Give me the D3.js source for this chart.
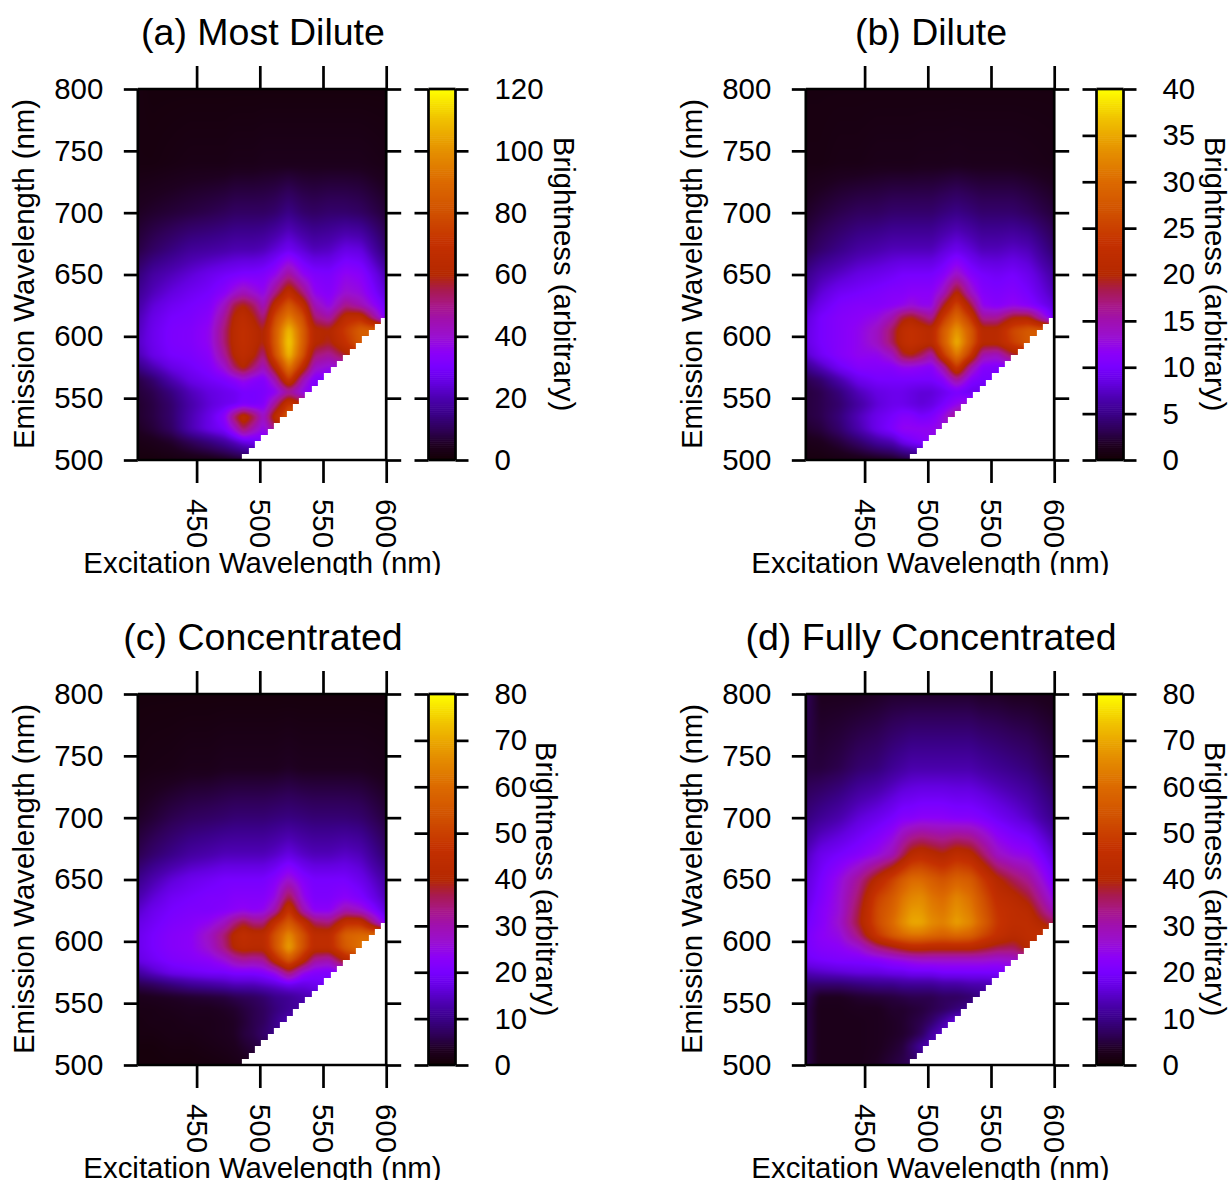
<!DOCTYPE html>
<html><head><meta charset="utf-8">
<style>html,body{margin:0;padding:0;background:#fff}svg{display:block}text{font-family:"Liberation Sans",Arial,sans-serif;fill:#000}</style>
<script src="https://cdn.jsdelivr.net/npm/d3@7"></script></head><body><div id="c"></div>
<script>
const excitationNodes=[403,415,430,445,460,472,480,487,495,503,512,523,534,543,555,568,580,600];
const emissionNodes=[500,515,525,535,545,555,565,575,585,595,605,615,625,635,650,670,700,740,800];
const titles=["(a) Most Dilute","(b) Dilute","(c) Concentrated","(d) Fully Concentrated"];
const brightnessMax=[120,40,80,80];
const brightnessTicks=[[0,20,40,60,80,100,120],[0,5,10,15,20,25,30,35,40],[0,10,20,30,40,50,60,70,80],[0,10,20,30,40,50,60,70,80]];
const excitationTicks=[450,500,550,600];
const emissionTicks=[500,550,600,650,700,750,800];
const colorStops=[0,.04,.083,.125,.167,.208,.25,.29,.333,.375,.417,.458,.5,.583,.667,.75,.833,.917,1];
const colorValues=["#140004","#1e0020","#2f0058","#3a0088","#4c00b0","#6400e0","#7800ff","#8c00f8","#9a10d0","#a010b0","#a81888","#a81a50","#b42800","#c43000","#d05000","#dc6a00","#e59000","#f0c000","#ffff00"];
const gridA=[
[1.5,1.5,2,2.5,3,4,5,6,8,10,12,14,14,14,14,14,14,14],
[3,4,6,10,14,18,22,26,28,30,34,40,40,40,40,40,40,40],
[5,7,11,20,26,30,40,54,44,36,50,70,70,70,70,70,70,70],
[6,8,12,20,26,34,54,68,56,40,66,85,85,85,85,85,85,85],
[6,8,12,19,24,27,28,31,30,32,48,74,60,60,60,60,60,60],
[7,9,14,21,25,27,28,30,30,31,34,46,36,32,30,30,30,30],
[8,12,20,26,29,31,34,38,34,32,44,75,44,32,30,30,30,30],
[14,20,26,29,32,40,54,62,52,42,62,95,66,42,38,40,40,40],
[20,26,30,31,34,48,62,66,62,50,80,110,82,52,48,58,70,70],
[22,27,31,32,36,52,64,68,64,58,84,114,86,62,58,70,84,84],
[21,27,31,32,36,52,64,68,64,58,84,110,86,62,60,74,86,86],
[20,26,30,31,34,48,62,66,60,50,78,96,80,52,46,66,68,30],
[18,24,28,30,32,42,56,60,54,42,66,84,68,44,36,50,44,28],
[16,21,25,28,30,34,40,44,40,36,50,68,52,36,33,40,38,24],
[13,18,21,24,27,29,30,31,31,32,36,48,36,32,31,36,34,20],
[8,11,14,17,18,19,20,20,20,21,24,28,24,21,22,26,25,12],
[5,6,7,8,9,10,11,11,11,11,12,15,12,11,12,12,11,7],
[2,2,2.5,3,3,3,3.5,3.5,3.5,4,4,4,4,4,4,4,4,3],
[2,1.5,1.5,1.5,1.5,1.5,1.5,1.5,1.5,1.5,1.5,1.5,1.5,1.5,1.5,1.5,1.5,1.5]];
const gridB=[
[.6,.6,.8,1,1.2,1.5,2,2.5,3,3,3,3,3,3,3,3,3,3],
[1.2,1.5,2.5,4,6,7,9,10,11,12,12,12,12,12,12,12,12,12],
[2,2.5,4,6.5,9,10.5,12,12,12,12,13,14,14,14,14,14,14,14],
[2.5,3,4.5,7,9,10,11,11,10,10.5,12.5,17,17,17,17,17,17,17],
[2.5,3,4,6,8,9,9,8.5,8,8.5,10,12,14,14,14,14,14,14],
[2.5,3,4.5,7,8.5,9,9,8.5,8,8,9,10,9,9,9,9,9,9],
[3,4,6.5,9,10,10,10,10,10,10,11,16,11,10,10,10,10,10],
[5,7,9.5,11,11,11,12,12,11.5,11,15,25,15,11,10.5,11,11,11],
[7.5,9.5,11,12,12,14,19,20,18,15,24,32,24,15,14,19,20,20],
[8.5,10,11,12,14,18,22,23,22,21,28,36,28,21,21,25,28,28],
[8.5,10,11,12,14,18,22,23,22,21,28,34,28,21,21,26,28,28],
[8,10,11,11.5,12.5,15,19,20,18,16,24,30,24,16,16,20,20,9],
[7,9,10.5,11,11,11.5,12,13,12,12,19,26,19,12,11,12,11,8],
[6,8,9.5,10,10.5,11,11,11.5,11.5,11.5,14,21,14,11,10.5,11,10,7],
[5,6.5,7.5,8.5,9,9.5,10,10,10,10,11,14,11,10,9.5,10,9,6],
[3,4,5,6,6.5,7,7,7,7,7,8,9,8,7,7,7.5,7,4],
[1.8,2.4,3,3.5,3.6,4,4,4,4,4,4.5,5,4.5,4,4,4,3.5,2.4],
[.8,.8,1,1,1.2,1.2,1.2,1.2,1.3,1.3,1.3,1.4,1.3,1.3,1.3,1.3,1.2,1],
[.7,.7,.7,.7,.7,.7,.7,.7,.7,.7,.7,.7,.7,.7,.7,.7,.7,.7]];
const gridC=[
[.8,.8,1,1,1.2,1.5,2,2.5,3,3,3,3,3,3,3,3,3,3],
[1,1,1.5,1.5,2,2.5,3,4,5,6,6,6,6,6,6,6,6,6],
[1.5,1.5,2,2,2.5,3,3.5,5,6,8,10,10,10,10,10,10,10,10],
[1.5,2,2,2.5,2.5,3,3.5,4.5,6,7,10,14,14,14,14,14,14,14],
[2,2,2.5,3,3,3.5,4,5,6,7,9,11,12,16,16,16,16,16],
[2.5,3,3.5,4,4.5,5,6,6.5,7,8,10,11,13,14,18,18,18,18],
[6,7,9,11,12,13,14,14,14,15,16,18,17,18,20,20,20,20],
[12,15,18,19,20,20,21,21,21,22,25,36,25,22,21,24,24,24],
[17,19,21,22,23,26,30,32,31,32,44,56,44,32,30,42,46,46],
[18,20,22,23,27,34,41,43,42,42,54,70,54,44,44,56,62,62],
[18,20,22,23,28,35,42,45,43,43,54,66,54,44,44,58,60,60],
[17,19,21,22,24,28,34,38,34,34,46,56,46,36,34,46,46,20],
[15,18,20,21,21,22,23,24,23,24,30,48,30,23,23,30,27,16],
[13,16,19,20,21,21,22,22,22,22,25,38,25,21,21,23,21,14],
[10,13,16,18,19,20,20,20,20,20,22,27,22,20,20,20,18,12],
[6,8,10,12,13,14,14,14,14,14,15,17,15,14,14,15,14,8],
[3.5,4.5,6,7,7.5,8,8.5,8.5,8.5,8.5,9,9.5,9,8.5,8.5,8.5,8,5],
[1.5,1.8,2,2.5,2.5,3,3,3,3,3,3,3.5,3,3,3,3,3,2.4],
[1,1,1,1,1,1,1,1,1,1,1,1,1,1,1,1,1,1]];
const gridD=[
[6,2.5,2.5,2.5,3.5,5,6,7,8,8,8,8,8,8,8,8,8,8],
[6,2.5,2.5,2.5,3,4,5,8,12,14,14,14,14,14,14,14,14,14],
[6,2.5,2.5,2.5,3,3.5,4,5,7,12,16,16,16,16,16,16,16,16],
[6,2.5,2.5,2.5,3,3.5,4,5,6,8,12,18,18,18,18,18,18,18],
[6,2.5,2.5,3,3,4,4,4.5,5,6,7,9,11,16,16,16,16,16],
[7,3,3,4,4.5,5,5.5,6,6,6,7,7,8,10,13,13,13,13],
[8,8,8,9,10,10,11,11,11,11,12,12,13,13,14,18,20,20],
[14,15,16,17,17,18,18,19,19,19,20,20,20,20,20,22,24,24],
[19,20,21,21,22,24,25,26,27,27,27,27,27,27,26,27,30,30],
[20,22,23,26,34,38,41,43,43,42,42,42,42,40,37,36,42,42],
[20,23,25,34,48,56,60,62,62,60,58,60,58,52,46,42,44,46],
[19,22,27,38,52,60,66,70,70,66,64,69,65,58,48,44,44,36],
[18,22,26,37,52,58,64,68,68,64,62,67,63,56,47,44,42,28],
[17,21,26,35,50,56,62,65,66,62,60,65,61,54,45,42,38,24],
[16,20,25,32,42,50,56,60,60,57,54,58,56,49,41,36,32,20],
[14,18,20,22,25,29,36,42,44,42,40,44,42,36,28,25,24,16],
[9,11,13,16,18,20,22,22,23,23,23,22,22,21,19,17,15,10],
[5,5,6,8,9,11,12,13,13,13,13,13,13,12,11,10,9,6],
[7,3,3,3,3.5,4,4,4,4,4,4,4,4,3.5,3.5,3,3,2.5]];
const grids=[gridA,gridB,gridC,gridD];
const brightnessLabelX=[563,1214,545,1214];

const W=1231,H=1184,LW=2.7,FS=29.4;
const svg=d3.select("#c").append("svg").attr("width",W).attr("height",H).attr("viewBox",`0 0 ${W} ${H}`);
const defs=svg.append("defs");
const cmap=d3.scaleLinear().domain(colorStops).range(colorValues).clamp(true);
const colOffset=[0,668,0,668], rowOffset=[0,0,605,605];

function sampler(grid){
  const ix=d3.scaleLinear().domain(excitationNodes).range(d3.range(excitationNodes.length)).clamp(true);
  const iy=d3.scaleLinear().domain(emissionNodes).range(d3.range(emissionNodes.length)).clamp(true);
  return (ex,em)=>{
    const fx=ix(ex),fy=iy(em);
    const x0=Math.min(Math.floor(fx),excitationNodes.length-2),y0=Math.min(Math.floor(fy),emissionNodes.length-2);
    const tx=fx-x0,ty=fy-y0;
    return (grid[y0][x0]*(1-tx)+grid[y0][x0+1]*tx)*(1-ty)+(grid[y0+1][x0]*(1-tx)+grid[y0+1][x0+1]*tx)*ty;
  };
}
function smooth(f,w,h,r){
  const a=new Float32Array(w*h),idx=(x,y)=>y*w+x;
  for(let pass=0;pass<2;pass++){
    for(let y=0;y<h;y++){for(let x=0;x<w;x++){let s=0;for(let k=-r;k<=r;k++)s+=f[idx(Math.max(0,Math.min(w-1,x+k)),y)];a[idx(x,y)]=s/(2*r+1);}}
    for(let y=0;y<h;y++){for(let x=0;x<w;x++){let s=0;for(let k=-r;k<=r;k++)s+=a[idx(x,Math.max(0,Math.min(h-1,y+k)))];f[idx(x,y)]=s/(2*r+1);}}
  }
  return f;
}
titles.forEach((title,i)=>{
  const dx=colOffset[i],dy=rowOffset[i];
  const x=d3.scaleLinear().domain([450,600]).range([196.6+dx,386.2+dx]);
  const y=d3.scaleLinear().domain([500,800]).range([460+dy,89+dy]);
  const left=x(403.5),right=x(600),top=y(800),bottom=y(500);
  const g=svg.append("g");
  const w=Math.ceil(right-left),h=Math.ceil(bottom-top);
  const cv=document.createElement("canvas");cv.width=w;cv.height=h;
  const ctx=cv.getContext("2d"),img=ctx.createImageData(w,h);
  const s=sampler(grids[i]),f=new Float32Array(w*h);
  for(let py=0;py<h;py++)for(let px=0;px<w;px++)f[py*w+px]=s(x.invert(left+px+.5),y.invert(top+py+.5));
  smooth(f,w,h,2);
  for(let py=0;py<h;py++)for(let px=0;px<w;px++){
    const ex=x.invert(left+px+.5),em=y.invert(top+py+.5),o=(py*w+px)*4;
    if(ex>=5*Math.floor(em/5)-14){img.data[o]=img.data[o+1]=img.data[o+2]=255;img.data[o+3]=255;continue;}
    const c=d3.rgb(cmap(f[py*w+px]/brightnessMax[i]));
    img.data[o]=c.r;img.data[o+1]=c.g;img.data[o+2]=c.b;img.data[o+3]=255;
  }
  ctx.putImageData(img,0,0);
  g.append("image").attr("x",left).attr("y",top).attr("width",w).attr("height",h).attr("href",cv.toDataURL());
  const stroke=sel=>{sel.select(".domain").remove();sel.selectAll("line").attr("stroke","#000").attr("stroke-width",LW);sel.selectAll("text").attr("font-size",FS).attr("fill","#000");};
  [[left,top,right,top],[left,bottom,right,bottom],[left,top,left,bottom],[right,top,right,bottom]].forEach(l=>
    g.append("line").attr("x1",l[0]).attr("y1",l[1]).attr("x2",l[2]).attr("y2",l[3]).attr("stroke","#000").attr("stroke-width",LW));
  g.append("g").attr("transform",`translate(${left},0)`).call(d3.axisLeft(y).tickValues(emissionTicks).tickSize(14).tickPadding(20.5)).call(stroke);
  g.append("g").attr("transform",`translate(${right},0)`).call(d3.axisRight(y).tickValues(emissionTicks).tickSize(15).tickFormat("")).call(stroke);
  g.append("g").attr("transform",`translate(0,${top})`).call(d3.axisTop(x).tickValues(excitationTicks).tickSize(23).tickFormat("")).call(stroke);
  const xa=g.append("g").attr("transform",`translate(0,${bottom})`).call(d3.axisBottom(x).tickValues(excitationTicks).tickSize(23)).call(stroke);
  xa.selectAll("text").attr("text-anchor","start").attr("y",null)
    .attr("transform",`translate(0,39) rotate(90)`).attr("dy",".35em");
  const clipId="clip"+i;
  defs.append("clipPath").attr("id",clipId).append("rect").attr("x",dx).attr("y",dy).attr("width",600).attr("height",575);
  g.append("text").attr("clip-path",`url(#${clipId})`).attr("x",262.5+dx).attr("y",573+dy).attr("text-anchor","middle").attr("font-size",FS).text("Excitation Wavelength (nm)");
  g.append("text").attr("transform",`translate(${34+dx},${274+dy}) rotate(-90)`).attr("text-anchor","middle").attr("font-size",FS).text("Emission Wavelength (nm)");
  g.append("text").attr("x",263+dx).attr("y",45+dy).attr("text-anchor","middle").attr("font-size",37.5).text(title);
  const v=d3.scaleLinear().domain([0,brightnessMax[i]]).range([bottom,top]);
  const bl=428.5+dx,br=455.5+dx,barStep=brightnessMax[i]/180;
  g.append("g").selectAll("rect").data(d3.range(0,brightnessMax[i],barStep)).join("rect")
    .attr("x",bl).attr("width",br-bl).attr("y",d=>v(d+barStep)-.3).attr("height",d=>v(d)-v(d+barStep)+.6)
    .attr("fill",d=>cmap((d+barStep/2)/brightnessMax[i]));
  [[bl,top,br,top],[bl,bottom,br,bottom],[bl,top,bl,bottom],[br,top,br,bottom]].forEach(l=>
    g.append("line").attr("x1",l[0]).attr("y1",l[1]).attr("x2",l[2]).attr("y2",l[3]).attr("stroke","#000").attr("stroke-width",LW));
  g.append("g").attr("transform",`translate(${bl},0)`).call(d3.axisLeft(v).tickValues(brightnessTicks[i]).tickSize(14).tickFormat("")).call(stroke);
  g.append("g").attr("transform",`translate(${br},0)`).call(d3.axisRight(v).tickValues(brightnessTicks[i]).tickSize(13).tickPadding(26)).call(stroke);
  g.append("text").attr("transform",`translate(${brightnessLabelX[i]-9},${274+dy}) rotate(90)`).attr("text-anchor","middle").attr("font-size",FS).text("Brightness (arbitrary)");
});
</script></body></html>
